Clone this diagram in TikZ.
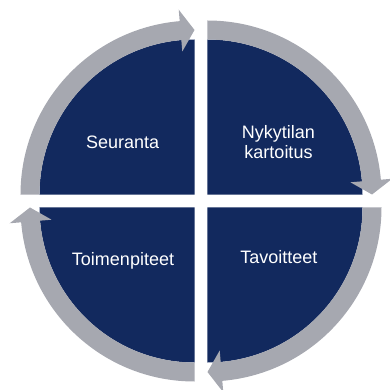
\documentclass[tikz,border=0pt]{standalone}
\usepackage{fontspec}
\setmainfont{Liberation Sans}
\usepackage{tikz}

\definecolor{navy}{RGB}{18,41,94}
\definecolor{ringgray}{RGB}{166,168,176}

\begin{document}
\begin{tikzpicture}[x=1pt,y=1pt,
    quarter/.style={fill=navy},
    ring/.style={fill=ringgray},
    phase/.style={text=white,font=\fontsize{18}{20}\selectfont,align=center,inner sep=0pt}]
  \useasboundingbox (-201,-189) rectangle (188,201);
  \foreach \s/\m in {180/135,90/45,0/-45,-90/-135}{
    \begin{scope}[shift={(\m:9.19)}]
      \fill[quarter] (0,0) -- (\s:155) arc[start angle=\s,delta angle=-90,radius=155] -- cycle;
      \fill[ring] (\s:155) -- (\s:174) arc[start angle=\s,delta angle=-85.12,radius=174]
        -- (\s-85.12:185.5) -- (\s-90:164.5) -- (\s-85.12:143.5) -- (\s-85.12:155)
        arc[start angle=\s-85.12,delta angle=85.12,radius=155] -- cycle;
    \end{scope}
  }
  \node[phase,anchor=base] (seuranta) at (-78.3,52.7) {Seuranta};
  \node[phase] (nykytila) at (77.5,59) {Nykytilan\\kartoitus};
  \node[phase,anchor=base] (tavoitteet) at (77.8,-62.3) {Tavoitteet};
  \node[phase,anchor=base] (toimenpiteet) at (-78,-64.7) {Toimenpiteet};
\end{tikzpicture}
\end{document}
